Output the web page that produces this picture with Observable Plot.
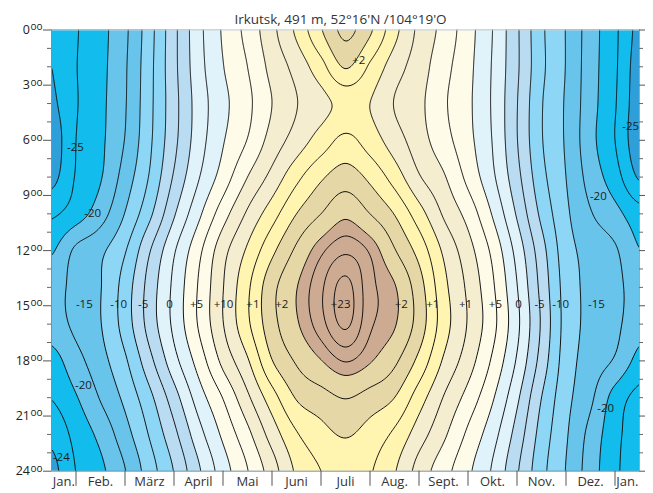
<!DOCTYPE html>
<html>
<head>
<meta charset="utf-8">
<script src="https://cdn.jsdelivr.net/npm/d3@7"></script>
<script src="https://cdn.jsdelivr.net/npm/@observablehq/plot@0.6"></script>
<style>
  body { margin: 0; background: #fff; }
  svg { display: block; }
</style>
</head>
<body>
<div id="chart"></div>
<script>
// ---------- text ----------
const title = "Irkutsk, 491 m, 52°16'N /104°19'O";
const monthLabels = ["Jan.", "Feb.", "März", "April", "Mai", "Juni", "Juli", "Aug.", "Sept.", "Okt.", "Nov.", "Dez.", "Jan."];
const monthLabelPos = [0.75, 1.5, 2.5, 3.5, 4.5, 5.5, 6.5, 7.5, 8.5, 9.5, 10.5, 11.5, 12.25];
const monthBounds = [1, 2, 3, 4, 5, 6, 7, 8, 9, 10, 11, 12];
const hourTicks = [0, 3, 6, 9, 12, 15, 18, 21, 24];
const hourMinor = [1, 2, 4, 5, 7, 8, 10, 11, 13, 14, 16, 17, 19, 20, 22, 23];

// ---------- temperature grid (°C) : columns = half-month steps, rows = hours ----------
const gridMonths = [0.5, 1, 1.5, 2, 2.5, 3, 3.5, 4, 4.5, 5, 5.5, 6, 6.5, 7, 7.5, 8, 8.5, 9, 9.5, 10, 10.5, 11, 11.5, 12, 12.5];
const gridHours = [0, 2, 4, 6, 8, 10, 12, 14, 16, 18, 20, 22, 24];
const t00 = [-22.2, -20.2, -18.3, -15.5, -11.0, -5.7, -0.8, 2.8, 5.8, 9.3, 13.0, 17.3, 20.6, 17.9, 13.3, 9.4, 6.7, 3.5, 0.0, -4.6, -9.5, -12.6, -16.3, -19.5, -23.3];
const t02 = [-22.5, -20.1, -18.2, -15.3, -10.8, -5.7, -1.0, 2.4, 5.0, 8.3, 10.9, 14.1, 17.7, 14.6, 11.2, 8.7, 5.9, 3.2, -0.2, -4.6, -9.4, -12.6, -16.4, -19.6, -23.8];
const t04 = [-23.0, -20.2, -18.1, -15.2, -10.7, -5.9, -1.4, 1.8, 4.4, 7.5, 9.9, 11.7, 13.2, 12.5, 9.9, 8.1, 5.4, 3.0, -0.3, -4.9, -9.8, -12.8, -16.5, -19.8, -24.0];
const t06 = [-24.0, -20.0, -18.0, -14.9, -10.5, -5.7, -1.2, 2.3, 5.1, 8.5, 11.1, 13.6, 15.6, 13.8, 11.2, 8.6, 6.0, 3.25, -0.1, -4.9, -9.8, -12.8, -16.7, -20.0, -24.2];
const t08 = [-23.3, -19.8, -17.7, -13.9, -9.8, -4.7, -0.2, 3.6, 7.5, 10.8, 14.3, 17.1, 18.7, 16.9, 13.9, 10.25, 7.8, 4.3, 0.5, -4.2, -9.2, -12.5, -16.0, -18.9, -22.8];
const t10 = [-20.4, -18.7, -16.1, -12.4, -8.1, -2.8, 1.9, 6.4, 10.4, 13.9, 17.5, 20.0, 22.0, 20.0, 17.4, 13.6, 9.7, 6.6, 2.3, -2.8, -8.1, -12.0, -14.8, -16.7, -19.0];
const t12 = [-17.8, -14.5, -13.0, -10.2, -5.2, -0.3, 4.3, 9.1, 12.9, 16.9, 20.5, 23.6, 25.2, 23.75, 20.2, 16.6, 12.1, 8.5, 4.4, -0.9, -6.5, -11.4, -13.4, -14.7, -17.4];
const t14 = [-16.0, -14.2, -12.6, -8.9, -4.0, 0.6, 5.2, 9.9, 14.5, 19.2, 22.4, 25.2, 27.5, 24.5, 22.7, 18.6, 13.3, 9.5, 5.4, 0.1, -5.75, -11.0, -13.2, -14.4, -16.0];
const t16 = [-16.2, -14.4, -12.6, -8.9, -4.0, 0.6, 5.2, 9.9, 14.5, 19.1, 22.2, 24.9, 27.3, 24.3, 22.7, 18.9, 13.7, 9.8, 5.8, 0.6, -5.3, -10.9, -13.2, -14.4, -16.6];
const t18 = [-18.5, -15.9, -13.4, -10.4, -5.8, -0.9, 3.5, 8.2, 12.2, 17.4, 20.3, 22.4, 24.1, 22.7, 20.5, 16.8, 12.2, 8.7, 4.6, -0.3, -6.0, -11.2, -13.6, -15.3, -18.3];
const t20 = [-19.9, -17.7, -14.8, -11.9, -8.2, -3.6, 1.2, 5.1, 9.5, 13.9, 17.7, 19.0, 20.1, 19.0, 17.5, 13.7, 9.9, 6.6, 2.8, -2.0, -7.5, -11.7, -14.5, -18.5, -20.8];
const t22 = [-21.8, -19.2, -16.8, -13.5, -9.8, -5.7, -1.0, 3.0, 6.8, 11.1, 14.75, 16.65, 17.7, 16.5, 14.5, 11.2, 8.0, 4.5, 1.0, -3.5, -8.5, -12.2, -15.8, -19.2, -21.5];
const t24 = [-23.3, -19.95, -18.05, -15.1, -11.2, -7.4, -2.9, 1.3, 4.9, 8.8, 12.9, 15.0, 16.0, 15.2, 12.7, 9.0, 6.0, 3.0, -0.3, -4.7, -9.2, -12.6, -16.25, -19.5, -21.5];

// ---------- colour bands and isolines ----------
const bandLimits = [-22.5, -17.5, -12.5, -7.5, -2.5, 2.5, 7.5, 12.5, 17.5, 22.5];
const bandColors = ["#2e9fd8", "#12bdee", "#69c4ec", "#8dd6f6", "#badcf2", "#e0f2fa", "#fefbe8", "#f4edd0", "#fff4b0", "#e6d8a6", "#cdab93"];
const lineLevels = [-25, -22.5, -20, -17.5, -15, -12.5, -10, -7.5, -5, -2.5, 0, 2.5, 5, 7.5, 10, 12.5, 15, 17.5, 20, 22.5, 24, 25.5, 27];

// ---------- isoline labels ----------
const labelText  = ["-25", "-20", "-15", "-10", "-5", "0", "+5", "+10", "+1", "+2", "+23", "+2", "+1", "+1", "+5", "0", "-5", "-10", "-15", "-20", "-24", "-25", "-20", "-20", "+2"];
const labelMonth = [0.99, 1.34, 1.17, 1.87, 2.37, 2.91, 3.46, 4.01, 4.61, 5.20, 6.40, 7.64, 8.28, 8.95, 9.56, 10.03, 10.46, 10.89, 11.62, 1.15, 0.70, 12.32, 11.66, 11.81, 6.77];
const labelHour  = [6.39, 9.98, 14.93, 14.93, 14.93, 14.93, 14.93, 14.93, 14.93, 14.93, 14.93, 14.93, 14.93, 14.93, 14.93, 14.93, 14.93, 14.93, 14.93, 19.34, 23.26, 5.25, 9.06, 20.59, 1.66];

// ---------- smooth (Catmull-Rom) reading of the grid ----------
const grid = [t00, t02, t04, t06, t08, t10, t12, t14, t16, t18, t20, t22, t24];
const nx = gridMonths.length, ny = gridHours.length;
const cl = (v, a, b) => Math.max(a, Math.min(b, v));
function cr(p0, p1, p2, p3, t) {
  return p1 + 0.5 * t * (p2 - p0 + t * (2 * p0 - 5 * p1 + 4 * p2 - p3 + t * (3 * (p1 - p2) + p3 - p0)));
}
function temp(m, h) {
  const fx = cl((m - gridMonths[0]) / (gridMonths[1] - gridMonths[0]), 0, nx - 1);
  const fy = cl((h - gridHours[0]) / (gridHours[1] - gridHours[0]), 0, ny - 1);
  const i = Math.min(Math.floor(fx), nx - 2), j = Math.min(Math.floor(fy), ny - 2);
  const tx = fx - i, ty = fy - j;
  const rowAt = r => {
    const R = grid[cl(r, 0, ny - 1)];
    const g = c => R[cl(c, 0, nx - 1)];
    return cr(g(i - 1), g(i), g(i + 1), g(i + 2), tx);
  };
  return cr(rowAt(j - 1), rowAt(j), rowAt(j + 1), rowAt(j + 2), ty);
}

const ext = {x1: 0.3, x2: 12.7, y1: -0.5, y2: 24.5};
const font = "'Open Sans', 'DejaVu Sans', sans-serif";
const labelIdx = d3.range(labelText.length);
const monthIdx = d3.range(monthLabels.length);

const chart = Plot.plot({
  width: 653,
  height: 493,
  marginLeft: 51,
  marginRight: 14,
  marginTop: 29.5,
  marginBottom: 22.3,
  style: {fontFamily: font, background: "#ffffff", color: "#222"},
  x: {domain: [0.5, 12.5], axis: null},
  y: {domain: [0, 24], reverse: true, axis: null},
  color: {type: "threshold", domain: bandLimits, range: bandColors},
  marks: [
    Plot.contour({...ext, value: temp, fill: "value", stroke: "none", thresholds: [-40, ...bandLimits], pixelSize: 1, clip: true}),
    Plot.contour({...ext, value: temp, fill: "none", stroke: "#111", strokeWidth: 1, thresholds: lineLevels, pixelSize: 1, clip: true}),
    // frame
    Plot.ruleY([0], {x1: 0.5, x2: 12.5, stroke: "#c8d2da"}),
    Plot.ruleY([24], {x1: 0.5, x2: 12.5, stroke: "#7e909e"}),
    Plot.ruleX([0.5], {y1: 0, y2: 24, stroke: "#7e909e"}),
    Plot.ruleX([12.5], {y1: 0, y2: 24, stroke: "#9aabb8"}),
    // left ticks
    Plot.ruleY(hourTicks, {y: d => d, x1: 0.5 - 8 / 49, x2: 0.5, stroke: "#555"}),
    Plot.ruleY(hourMinor, {y: d => d, x1: 0.5 - 4 / 49, x2: 0.5, stroke: "#666"}),
    // right ticks
    Plot.ruleY(hourTicks, {y: d => d, x1: 12.5, x2: 12.5 + 6 / 49, stroke: "#555"}),
    Plot.ruleY(hourMinor, {y: d => d, x1: 12.5, x2: 12.5 + 4 / 49, stroke: "#666"}),
    // hour labels with raised "oo"
    Plot.text(hourTicks, {x: 0.5, y: d => d, text: d => String(d), dx: -21.5, textAnchor: "end", fontSize: 12.5, fill: "#222", fontFamily: font}),
    Plot.text(hourTicks, {x: 0.5, y: d => d, text: () => "oo", dx: -9, dy: -2.8, textAnchor: "end", fontSize: 10, fill: "#222", fontFamily: font}),
    // month separators and labels
    Plot.ruleX(monthBounds, {x: d => d, y1: 24, y2: 24.82, stroke: "#555"}),
    Plot.text(monthIdx, {x: i => monthLabelPos[i], y: 24, text: i => monthLabels[i], dy: 10.5, fontSize: 13, fill: "#333", fontFamily: font}),
    // isoline labels
    Plot.text(labelIdx, {x: i => labelMonth[i], y: i => labelHour[i], text: i => labelText[i], fontSize: 11.5, fill: "#1c1c1c", fontFamily: font}),
    // title
    Plot.text([title], {frameAnchor: "top", dx: -5, dy: -15.5, fontSize: 13.5, fill: "#333", fontFamily: font})
  ]
});
document.getElementById("chart").appendChild(chart);
</script>
</body>
</html>
